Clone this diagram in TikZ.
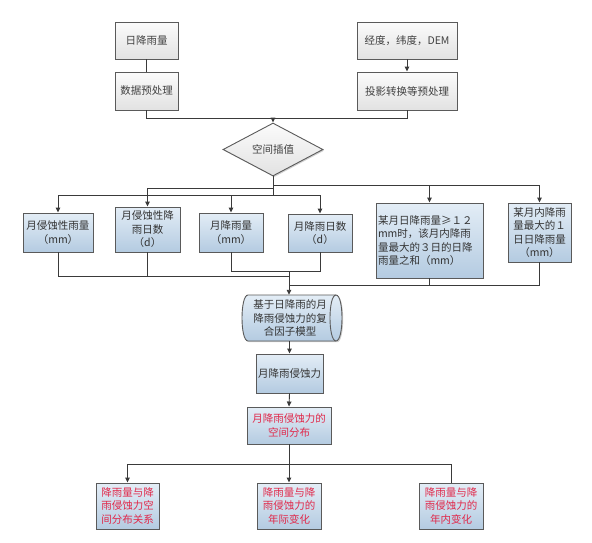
\documentclass[tikz,border=0pt]{standalone}
\usepackage{fontspec}
\setmainfont{Noto Sans CJK SC}
\usetikzlibrary{shapes.geometric,shadows,arrows.meta}
\definecolor{bordergray}{HTML}{5A5A5A}
\definecolor{linegray}{HTML}{3A3A3A}
\definecolor{graytop}{HTML}{FBFBFB}
\definecolor{graybot}{HTML}{E2E2E2}
\definecolor{bluetop}{HTML}{E3EDF6}
\definecolor{bluebot}{HTML}{B4CBE1}
\definecolor{redtext}{HTML}{E0284A}
\tikzset{
  shad/.style={drop shadow={shadow xshift=1.2pt, shadow yshift=-1.2pt, opacity=0.3, fill=black!60}},
  base/.style={draw=bordergray, line width=0.9pt, inner sep=0pt, align=center,
    font=\fontsize{10.5}{13.5}\selectfont, shad},
  graybox/.style={base, top color=graytop, bottom color=graybot, text=black!75},
  bluebox/.style={base, top color=bluetop, bottom color=bluebot, text=black!80},
  redbox/.style={bluebox, text=redtext},
  conn/.style={draw=linegray, line width=0.9pt},
  arr/.style={conn, -{Triangle[length=5pt,width=4.5pt]}},
}
\begin{document}
\begin{tikzpicture}[x=1pt,y=-1pt]
\useasboundingbox[fill=white] (0,0) rectangle (592,542);
% top
\node[graybox, minimum width=63, minimum height=37] (rain) at (146.5,40.5) {日降雨量};
\node[graybox, minimum width=63, minimum height=38] (dp) at (146.5,91) {数据预处理};
\node[graybox, minimum width=100, minimum height=37] (geo) at (407,40.5) {经度，纬度，DEM};
\node[graybox, minimum width=100, minimum height=38] (proj) at (407,91) {投影转换等预处理};
\node[graybox, diamond, aspect=1.9, minimum width=100, minimum height=53] (dia) at (273,149.5) {空间插值};
% row of factors
\node[bluebox, minimum width=70, minimum height=39] (b1) at (58,232.5) {月侵蚀性雨量\\（mm）};
\node[bluebox, minimum width=65, minimum height=45] (b2) at (147.5,229.5) {月侵蚀性降\\雨日数\\（d）};
\node[bluebox, minimum width=64, minimum height=39] (b3) at (231,232.5) {月降雨量\\（mm）};
\node[bluebox, minimum width=64, minimum height=38] (b4) at (320,233) {月降雨日数\\（d）};
\node[bluebox, minimum width=107, minimum height=75, align=left, text width=103] (b5) at (429.5,240.5) {某月日降雨量≥１２\\mm时，该月内降雨\\量最大的３日的日降\\雨量之和（mm）};
\node[bluebox, minimum width=63, minimum height=59] (b6) at (539.5,232.5) {某月内降雨\\量最大的１\\日日降雨量\\（mm）};
% model (horizontal cylinder drawn by hand round a text node)
\path[draw=bordergray, line width=0.9pt, top color=bluetop, bottom color=bluebot, shad]
  (292-44,295) -- (292+44,295)
  .. controls +(8,0) and +(8,0) .. (292+44,341)
  -- (292-44,341)
  .. controls +(-8,0) and +(-8,0) .. cycle;
\draw[draw=bordergray, line width=0.9pt] (292+44,295) .. controls +(-8,0) and +(-8,0) .. (292+44,341);
\node[inner sep=0pt, align=center, font=\fontsize{10.5}{13.5}\selectfont, text=black!80,
  minimum width=88, minimum height=46] (cyl) at (290,318) {基于日降雨的月\\降雨侵蚀力的复\\合因子模型};
\node[bluebox, minimum width=67, minimum height=39] (m) at (289.5,373.5) {月降雨侵蚀力};
\node[redbox, minimum width=84, minimum height=37] (sp) at (289,425.5) {月降雨侵蚀力的\\空间分布};
% outputs
\node[redbox, minimum width=63, minimum height=46] (oA) at (127.5,506) {降雨量与降\\雨侵蚀力空\\间分布关系};
\node[redbox, minimum width=64, minimum height=46] (oB) at (289,506) {降雨量与降\\雨侵蚀力的\\年际变化};
\node[redbox, minimum width=64, minimum height=46] (oC) at (451,506) {降雨量与降\\雨侵蚀力的\\年内变化};
% junctions
\coordinate (j1) at (273,118);
\coordinate (ja) at (273,185);
\coordinate (jb) at (273,188);
\coordinate (jc) at (273,195);
\coordinate (k1) at (289,276);
\coordinate (k2) at (289,271);
\coordinate (k3) at (289,285);
\coordinate (q1) at (289,464);
% connectors top
\draw[conn] (rain.south) -- (dp.north);
\draw[arr] (geo.south) -- (proj.north);
\draw[conn] (dp.south) |- (j1);
\draw[conn] (proj.south) |- (j1);
\draw[arr] (j1) -- (dia.north);
% diamond to factors
\draw[conn] (dia.south) -- (jc);
\draw[arr] (ja) -| (b6.north);
\draw[arr] (b5.north|-ja) -- (b5.north);
\draw[arr] (jb) -| (b2.north);
\draw[arr] (jc) -| (b1.north);
\draw[arr] (jc) -| (b4.north);
\draw[arr] (b3.north|-jc) -- (b3.north);
% factors to model
\draw[conn] (b1.south) |- (k1);
\draw[conn] (b2.south) -- (b2.south|-k1);
\draw[conn] (b3.south) |- (b4.south|-k2) -- (b4.south);
\draw[conn] (k3) -| (b6.south);
\draw[conn] (b5.south) -- (b5.south|-k3);
\draw[arr] (k2) -- (k2|-cyl.north);
\draw[arr] (cyl.south-|m.north) -- (m.north);
\draw[arr] (m.south) -- (sp.north);
% outputs
\draw[conn] (sp.south) -- (q1);
\draw[arr] (q1) -| (oA.north);
\draw[conn] (q1) -| (oC.north);
\draw[arr] (q1) -- (oB.north);
\end{tikzpicture}
\end{document}
